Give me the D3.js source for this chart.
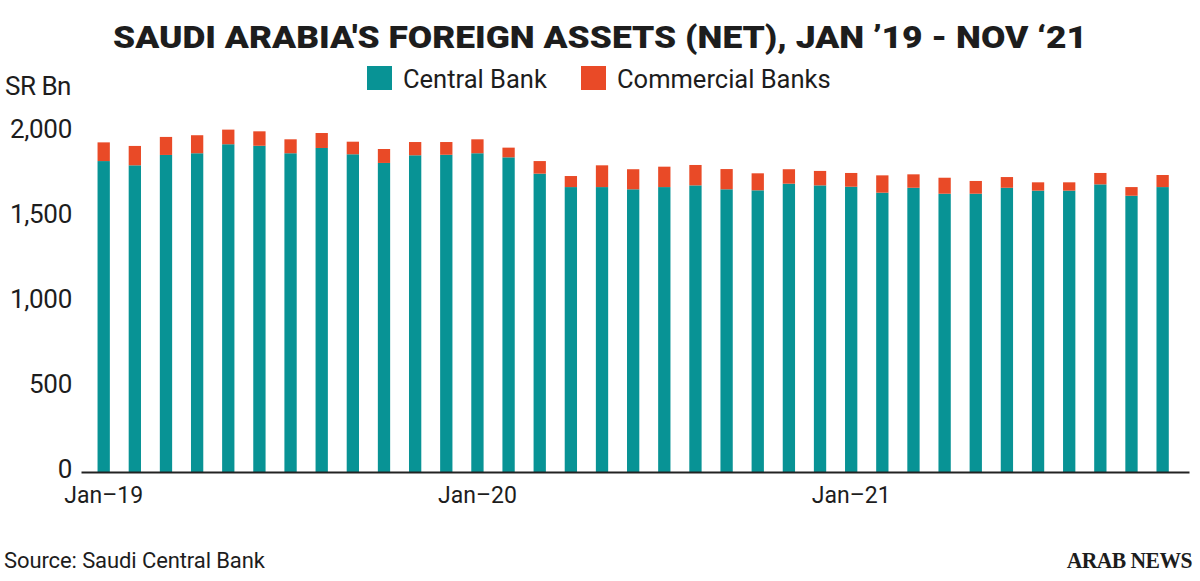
<!DOCTYPE html>
<html>
<head>
<meta charset="utf-8">
<script src="https://cdn.jsdelivr.net/npm/d3@7"></script>
<style>
  body { margin: 0; background: #fff; }
  text { font-family: Roboto, "Liberation Sans", sans-serif; fill: #1d1d1d; }
</style>
</head>
<body>
<script>
// months Jan-19 .. Nov-21
const months = [
  "Jan-19","Feb-19","Mar-19","Apr-19","May-19","Jun-19","Jul-19","Aug-19","Sep-19","Oct-19","Nov-19","Dec-19",
  "Jan-20","Feb-20","Mar-20","Apr-20","May-20","Jun-20","Jul-20","Aug-20","Sep-20","Oct-20","Nov-20","Dec-20",
  "Jan-21","Feb-21","Mar-21","Apr-21","May-21","Jun-21","Jul-21","Aug-21","Sep-21","Oct-21","Nov-21"
];

// SR Bn
const centralBank = [
  1829, 1804, 1865, 1875, 1928, 1919, 1875, 1906, 1869, 1818, 1863, 1866,
  1875, 1851, 1755, 1676, 1676, 1663, 1676, 1686, 1663, 1657, 1696, 1686,
  1678, 1643, 1672, 1637, 1637, 1672, 1655, 1655, 1692, 1625, 1676
];
const commercialBanks = [
  110, 114, 106, 106, 86, 85, 82, 88, 74, 82, 78, 75,
  82, 57, 74, 65, 128, 118, 120, 120, 119, 100, 85, 85,
  81, 102, 79, 94, 75, 63, 49, 49, 67, 51, 71
];

const seriesNames = ["Central Bank", "Commercial Banks"];
const colors = ["#089395", "#e94a27"];
const xTicks = ["Jan-19", "Jan-20", "Jan-21"];
const yTicks = [0, 500, 1000, 1500, 2000];

const w = 1200;
const h = 581;

const svg = d3.select("body")
    .append("svg")
    .attr("width", w)
    .attr("height", h);

const rows = months.map((m, i) => ({month: m, central: centralBank[i], commercial: commercialBanks[i]}));
const stacked = d3.stack().keys(["central", "commercial"])(rows);

const x = d3.scaleBand()
    .domain(months)
    .range([81, 1189])
    .paddingInner(0.605)
    .paddingOuter(0.59)
    .align(0.45);

const y = d3.scaleLinear()
    .domain([0, 2000])
    .range([472, 132]);

// title
svg.append("text")
    .attr("x", 600)
    .attr("y", 48)
    .attr("text-anchor", "middle")
    .attr("textLength", 974)
    .attr("lengthAdjust", "spacingAndGlyphs")
    .style("font-size", "31px")
    .style("font-weight", 900)
    .text("SAUDI ARABIA'S FOREIGN ASSETS (NET), JAN \u201919 - NOV \u201821");

// legend
const legendX = [367, 581];
const legend = svg.append("g")
    .selectAll("g")
    .data(seriesNames)
    .join("g")
    .attr("transform", (d, i) => `translate(${legendX[i]},66)`);

legend.append("rect")
    .attr("width", 25)
    .attr("height", 24)
    .attr("fill", (d, i) => colors[i]);

legend.append("text")
    .attr("x", 36)
    .attr("y", 22)
    .style("font-size", "25.5px")
    .style("letter-spacing", "0px")
    .text(d => d);

// unit label
svg.append("text")
    .attr("x", 5)
    .attr("y", 95)
    .style("font-size", "26px")
    .style("letter-spacing", "-0.5px")
    .text("SR Bn");

// bars
svg.append("g")
    .selectAll("g")
    .data(stacked)
    .join("g")
    .attr("fill", (d, i) => colors[i])
    .selectAll("rect")
    .data(d => d)
    .join("rect")
    .attr("x", d => x(d.data.month))
    .attr("width", x.bandwidth())
    .attr("y", d => y(d[1]))
    .attr("height", d => y(d[0]) - y(d[1]));

// y axis
const yAxis = g => g
    .attr("transform", `translate(81,0)`)
    .call(d3.axisLeft(y).tickValues(yTicks).tickSize(0).tickPadding(9).tickFormat(d3.format(",")))
    .call(g => g.select(".domain").remove())
    .call(g => g.selectAll("text")
        .attr("dy", null)
        .attr("y", 5)
        .style("font-size", "26px")
        .style("letter-spacing", "-0.3px")
        .style("font-family", "Roboto, sans-serif")
        .attr("fill", "#1d1d1d"));

// x axis
const xAxis = g => g
    .attr("transform", `translate(0,472)`)
    .call(d3.axisBottom(x).tickValues(xTicks).tickSize(0).tickFormat(d => d.replace("-", "\u2013")))
    .call(g => g.select(".domain").attr("stroke", "#222").attr("stroke-width", 2))
    .call(g => g.selectAll("text")
        .attr("dy", null)
        .attr("y", 31)
        .style("font-size", "23px")
        .style("font-family", "Roboto, sans-serif")
        .attr("fill", "#1d1d1d"));

svg.append("g").call(yAxis);
svg.append("g").call(xAxis);

// footer
svg.append("text")
    .attr("x", 4)
    .attr("y", 568)
    .style("font-size", "22px")
    .style("letter-spacing", "-0.1px")
    .text("Source: Saudi Central Bank");

svg.append("text")
    .attr("transform", "translate(1192,568) scale(0.9,1)")
    .attr("text-anchor", "end")
    .style("font-family", "'Liberation Serif', 'DejaVu Serif', serif")
    .style("font-weight", 700)
    .style("font-size", "24px")
    .style("letter-spacing", "-0.6px")
    .text("ARAB NEWS");
</script>
</body>
</html>
